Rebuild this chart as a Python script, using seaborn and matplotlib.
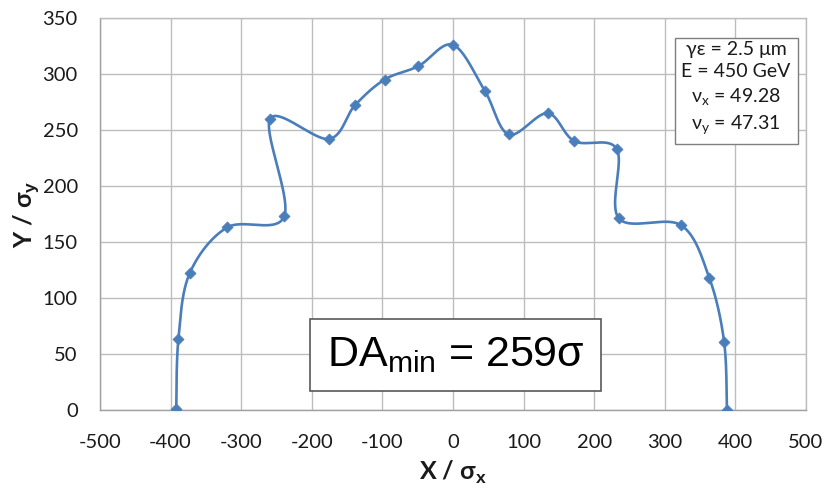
import numpy as np
import matplotlib
matplotlib.use("Agg")
import matplotlib.pyplot as plt
import seaborn as sns
from matplotlib.ticker import MultipleLocator

# ---- data ----
x_sigma = [-392, -389, -373, -320, -239, -259, -176, -139, -97, -49, 0,
           45, 79, 134, 172, 232, 235, 323, 363, 384, 388]
y_sigma = [1, 63, 122, 163, 173, 260, 242, 272, 295, 307, 326,
           285, 246, 265, 240, 233, 171, 165, 118, 61, 0]
x_ticks = [-500, -400, -300, -200, -100, 0, 100, 200, 300, 400, 500]
y_ticks = [0, 50, 100, 150, 200, 250, 300, 350]
info_lines = ["γε = 2.5 μm", "E = 450 GeV", "ν$_\\mathregular{x}$ = 49.28", "ν$_\\mathregular{y}$ = 47.31"]
da_label = "DA$_\\mathregular{min}$ = 259σ"

# ---- style ----
sns.set_style("white")
plt.rcParams["font.family"] = ["Lato", "DejaVu Sans"]
plt.rcParams["mathtext.fontset"] = "custom"
plt.rcParams["mathtext.rm"] = "Liberation Sans"
plt.rcParams["mathtext.bf"] = "Liberation Sans:bold"

LINE = "#4a7ebb"
GRID = "#bdbdbd"
TXT = "#1a1a1a"

fig = plt.figure(figsize=(8.24, 4.91), dpi=100)
ax = fig.add_axes([100 / 824, 1 - 410 / 491, 706 / 824, 392 / 491])
ax.set_xlim(x_ticks[0], x_ticks[-1])
ax.set_ylim(y_ticks[0], y_ticks[-1])

# ---- Excel-like smoothed curve (Bezier through points, computed in display space) ----
pts = ax.transData.transform(np.column_stack([x_sigma, y_sigma]))
n = len(pts)
curve = []
t = np.linspace(0, 1, 40)[:, None]
for i in range(n - 1):
    p0 = pts[i - 1] if i > 0 else pts[i]
    p1 = pts[i]
    p2 = pts[i + 1]
    p3 = pts[i + 2] if i + 2 < n else pts[i + 1]
    c1 = p1 + (p2 - p0) / 6.0
    c2 = p2 - (p3 - p1) / 6.0
    seg = ((1 - t) ** 3) * p1 + 3 * ((1 - t) ** 2) * t * c1 + 3 * (1 - t) * t ** 2 * c2 + t ** 3 * p2
    curve.append(seg if i == 0 else seg[1:])
curve = ax.transData.inverted().transform(np.vstack(curve))

sns.lineplot(x=curve[:, 0], y=curve[:, 1], sort=False, estimator=None, ax=ax,
             color=LINE, linewidth=1.9, zorder=3)
sns.scatterplot(x=x_sigma, y=y_sigma, ax=ax, marker="D", s=32, color=LINE,
                edgecolor=LINE, linewidth=0.5, zorder=4)

# ---- axes ----
ax.set_xticks(x_ticks)
ax.set_yticks(y_ticks)
ax.set_xticklabels([str(v) for v in x_ticks])
ax.set_yticklabels([str(v) for v in y_ticks])
ax.xaxis.set_minor_locator(MultipleLocator(20))
ax.yaxis.set_minor_locator(MultipleLocator(10))
ax.tick_params(axis="both", which="both", direction="in", length=5, width=0.8,
               color="#a6a6a6", labelsize=14.5, labelcolor=TXT)
ax.tick_params(axis="x", which="major", pad=17)
ax.tick_params(axis="y", which="major", pad=16)
ax.tick_params(top=False, right=False, which="both")
ax.grid(True, which="major", color=GRID, linewidth=1.0)
for s in ax.spines.values():
    s.set_color(GRID)
    s.set_linewidth(1.0)
ax.spines["bottom"].set_color("#a0a0a0")
ax.spines["left"].set_color("#a0a0a0")

ax.set_xlabel("X / σ$_\\mathbf{x}$", fontsize=18, fontweight="bold", color=TXT, labelpad=6)
ax.set_ylabel("Y / σ$_\\mathbf{y}$", fontsize=18, fontweight="bold", color=TXT, labelpad=1)

# ---- annotation boxes ----
ax.text(0.901, 0.819, "\n".join(info_lines), transform=ax.transAxes, ha="center", va="center",
        fontsize=14, color=TXT, linespacing=1.4, zorder=5,
        bbox=dict(boxstyle="square,pad=0.35", facecolor="white", edgecolor="#7f7f7f", linewidth=1.0))
ax.text(0.5035, 0.140, da_label, transform=ax.transAxes, ha="center", va="center",
        fontsize=31, color="black", family=["Liberation Sans", "DejaVu Sans"], zorder=5,
        bbox=dict(boxstyle="square,pad=0.38", facecolor="white", edgecolor="#595959", linewidth=1.2))

fig.savefig("out.png", dpi=100)
